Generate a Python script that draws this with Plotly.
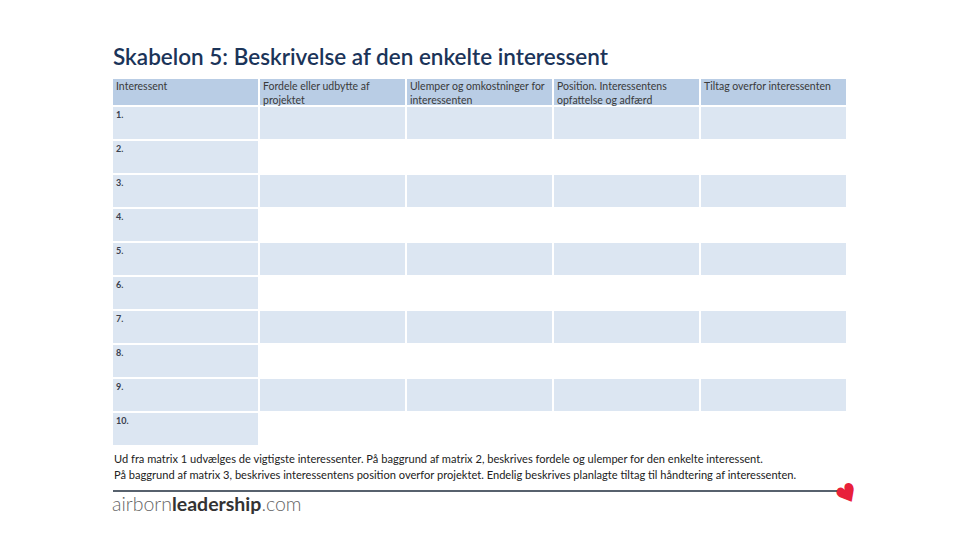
import plotly.graph_objects as go

# ---- data ----
title = "Skabelon 5: Beskrivelse af den enkelte interessent"
headers = [
    "Interessent",
    "Fordele eller udbytte af<br>projektet",
    "Ulemper og omkostninger for<br>interessenten",
    "Position. Interessentens<br>opfattelse og adfærd",
    "Tiltag overfor interessenten",
]
row_labels = ["1.", "2.", "3.", "4.", "5.", "6.", "7.", "8.", "9.", "10."]
footnote_lines = [
    "Ud fra matrix 1 udvælges de vigtigste interessenter. På baggrund af matrix 2, beskrives fordele og ulemper for den enkelte interessent.",
    "På baggrund af matrix 3, beskrives interessentens position overfor projektet. Endelig beskrives planlagte tiltag til håndtering af interessenten.",
]

# ---- styling ----
W, H = 960, 540
HEADER_FILL = "#b9cde5"
CELL_FILL = "#dce6f2"
WHITE = "#ffffff"
TEXT = "#3a3a3a"
FONT = "Lato"
HDR = 28 / 34  # header height relative to a body row

n_rows = len(row_labels)
n_cols = len(headers)

# fill category per cell: 2 = header, 1 = shaded, 0 = blank
z = [[2] * n_cols]
for ri in range(n_rows):
    z.append([1 if (ci == 0 or ri % 2 == 0) else 0 for ci in range(n_cols)])

y_edges = [0, HDR] + [HDR + k for k in range(1, n_rows + 1)]


def px(x):
    return x / W


def py(y):
    return 1 - y / H


fig = go.Figure()
fig.add_trace(go.Heatmap(
    z=z,
    x=list(range(n_cols)),
    y=y_edges,
    zmin=0, zmax=2,
    colorscale=[[0, WHITE], [0.5, CELL_FILL], [1, HEADER_FILL]],
    showscale=False,
    xgap=2, ygap=2,
    hoverinfo="skip",
))

annotations = []
for ci, h in enumerate(headers):
    annotations.append(dict(
        text=h, x=ci - 0.5, y=0, xref="x", yref="y",
        xanchor="left", yanchor="top", align="left", showarrow=False,
        xshift=2, yshift=0,
        font=dict(family=FONT, size=10.5, color=TEXT),
    ))
for ri, lab in enumerate(row_labels):
    annotations.append(dict(
        text=f"<b>{lab}</b>", x=-0.5, y=HDR + ri, xref="x", yref="y",
        xanchor="left", yanchor="top", align="left", showarrow=False,
        xshift=2, yshift=-1.5,
        font=dict(family=FONT, size=9, color="#3a3f4e"),
    ))

annotations += [
    dict(text=title, x=px(111), y=py(57), xref="paper", yref="paper",
         xanchor="left", yanchor="middle", showarrow=False,
         font=dict(family=FONT, size=22.5, color="#1b3459", weight=600)),
    dict(text=footnote_lines[0], x=px(112), y=py(458), xref="paper", yref="paper",
         xanchor="left", yanchor="middle", showarrow=False,
         font=dict(family=FONT, size=11.1, color="#222222")),
    dict(text=footnote_lines[1], x=px(112), y=py(474), xref="paper", yref="paper",
         xanchor="left", yanchor="middle", showarrow=False,
         font=dict(family=FONT, size=11.1, color="#222222")),
    dict(text="<span style='font-weight:300;color:#666666'>airborn</span><b>leadership</b><span style='font-weight:300;color:#666666'>.com</span>",
         x=px(110), y=py(503), xref="paper", yref="paper",
         xanchor="left", yanchor="middle", showarrow=False,
         font=dict(family=FONT, size=19.5, color="#333333")),
    dict(text="♥", x=px(847), y=py(494), xref="paper", yref="paper",
         xanchor="center", yanchor="middle", showarrow=False, textangle=-30,
         font=dict(family="DejaVu Sans", size=25, color="#e8203a")),
]

shapes = [
    dict(type="line", xref="paper", yref="paper",
         x0=px(113), x1=px(838), y0=py(491), y1=py(491),
         line=dict(color="#1f2d3d", width=1.3)),
    dict(type="circle", xref="paper", yref="paper",
         x0=px(839), x1=px(848), y0=py(483), y1=py(492),
         line=dict(color="#ffffff", width=1)),
]

fig.update_layout(
    width=W, height=H,
    margin=dict(l=0, r=0, t=0, b=0),
    paper_bgcolor="white", plot_bgcolor="white",
    xaxis=dict(domain=[px(112), px(847)], range=[-0.5, n_cols - 0.5],
               visible=False, fixedrange=True),
    yaxis=dict(domain=[py(446), py(78)], range=[HDR + n_rows, 0],
               visible=False, fixedrange=True),
    annotations=annotations, shapes=shapes,
    showlegend=False,
)

fig.write_html("out.html", config={"displayModeBar": False},
               post_script="document.body.style.margin='0';")
